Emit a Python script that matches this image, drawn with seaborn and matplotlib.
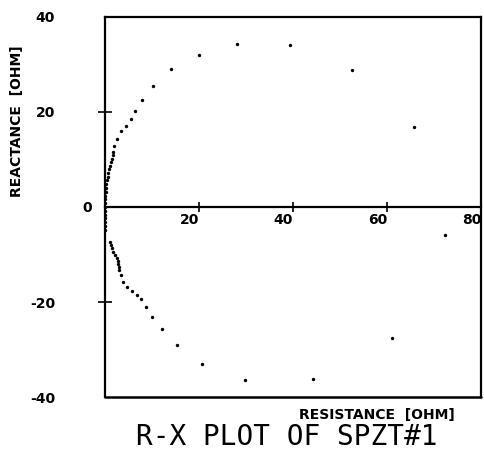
import matplotlib
matplotlib.use("Agg")
import matplotlib.pyplot as plt
import matplotlib.transforms as mtransforms
import pandas as pd
import seaborn as sns

# R-X impedance locus of SPZT#1
resistance = [
    72.3, 65.8, 52.6, 39.4, 28.0, 19.9, 14.0, 10.1, 7.8, 6.4, 5.5, 4.5,
    3.5, 2.5, 2.0, 1.8, 1.6, 1.4, 1.2, 1.0, 0.85, 0.7, 0.55, 0.4, 0.3,
    0.2, 0.15, 0.1, 0.08, 0.05, 0.03, 0.03, 0.03, 0.03, 0.03, 0.03, 0.03,
    1.1, 1.3, 1.5, 1.8, 2.1, 2.5, 2.7, 2.8, 2.9, 3.0, 3.4, 3.9, 4.6, 5.7,
    6.7, 7.7, 8.7, 9.9, 12.1, 15.3, 20.6, 29.8, 44.2, 61.0,
]
reactance = [
    -6.0, 16.8, 28.8, 34.1, 34.3, 32.0, 29.0, 25.5, 22.5, 20.2, 18.5, 17.0,
    15.9, 14.3, 12.9, 11.6, 10.9, 10.2, 9.5, 8.7, 8.0, 7.2, 6.4, 5.6, 4.8,
    4.0, 3.2, 2.4, 1.6, 0.8, 0.0, -0.8, -1.6, -2.4, -3.2, -4.0, -4.8,
    -7.3, -8.0, -8.7, -9.4, -10.1, -10.8, -11.4, -11.9, -12.6, -13.3, -14.3,
    -15.7, -16.8, -17.7, -18.5, -19.4, -21.0, -23.1, -25.7, -29.1, -33.1,
    -36.4, -36.2, -27.5,
]
x_ticks = [20, 40, 60, 80]
y_ticks = [-40, -20, 0, 20, 40]

df = pd.DataFrame({"R": resistance, "X": reactance})

sns.set_style("white")
plt.rcParams["font.family"] = ["DejaVu Sans"]
plt.rcParams["text.color"] = "black"
plt.rcParams["axes.labelcolor"] = "black"
plt.rcParams["xtick.color"] = "black"
plt.rcParams["ytick.color"] = "black"

fig = plt.figure(figsize=(4.84, 4.53), dpi=100)
ax = fig.add_axes([0.217, 0.1236, 0.777, 0.8389])

sns.scatterplot(data=df, x="R", y="X", ax=ax, color="black", s=6,
                linewidth=0, marker="o", legend=False)

ax.set_xlim(0, 80)
ax.set_ylim(-40, 40)

for s in ax.spines.values():
    s.set_color("black")
    s.set_linewidth(1.6)
ax.spines["bottom"].set_position(("data", 0))
ax.axhline(-40, color="black", lw=1.8, clip_on=False)

ax.set_xticks(x_ticks)
ax.set_xticklabels([str(v) for v in x_ticks], ha="right",
                   fontsize=10, fontweight="bold")
ax.tick_params(axis="x", direction="inout", length=7, width=1.2, pad=1,
               bottom=True)
ax.xaxis.get_major_ticks()[-1].tick1line.set_visible(False)

ax.set_yticks(y_ticks)
ax.set_yticklabels([str(v) for v in y_ticks], fontsize=10, fontweight="bold")
ax.tick_params(axis="y", direction="inout", length=10, width=1.2, pad=31,
               left=True)
for i in (0, 2, 4):
    ax.yaxis.get_major_ticks()[i].tick1line.set_visible(False)
# the zero label sits right next to the axis
zero_lab = ax.get_yticklabels()[2]
zero_lab.set_transform(zero_lab.get_transform() +
                       mtransforms.ScaledTranslation(0.37, 0, fig.dpi_scale_trans))

ax.set_xlabel("RESISTANCE  [OHM]", fontsize=10, fontweight="bold")
ax.xaxis.set_label_coords(0.93, -0.028)
ax.xaxis.label.set_ha("right")
ax.xaxis.label.set_va("top")
ax.set_ylabel("REACTANCE  [OHM]", fontsize=10, fontweight="bold")
ax.yaxis.set_label_coords(-0.216, 0.726)

fig.text(0.592, 0.035, "R-X PLOT OF SPZT#1", ha="center", va="center",
         fontsize=20, family="DejaVu Sans Mono")

plt.savefig("out.png", dpi=100)
